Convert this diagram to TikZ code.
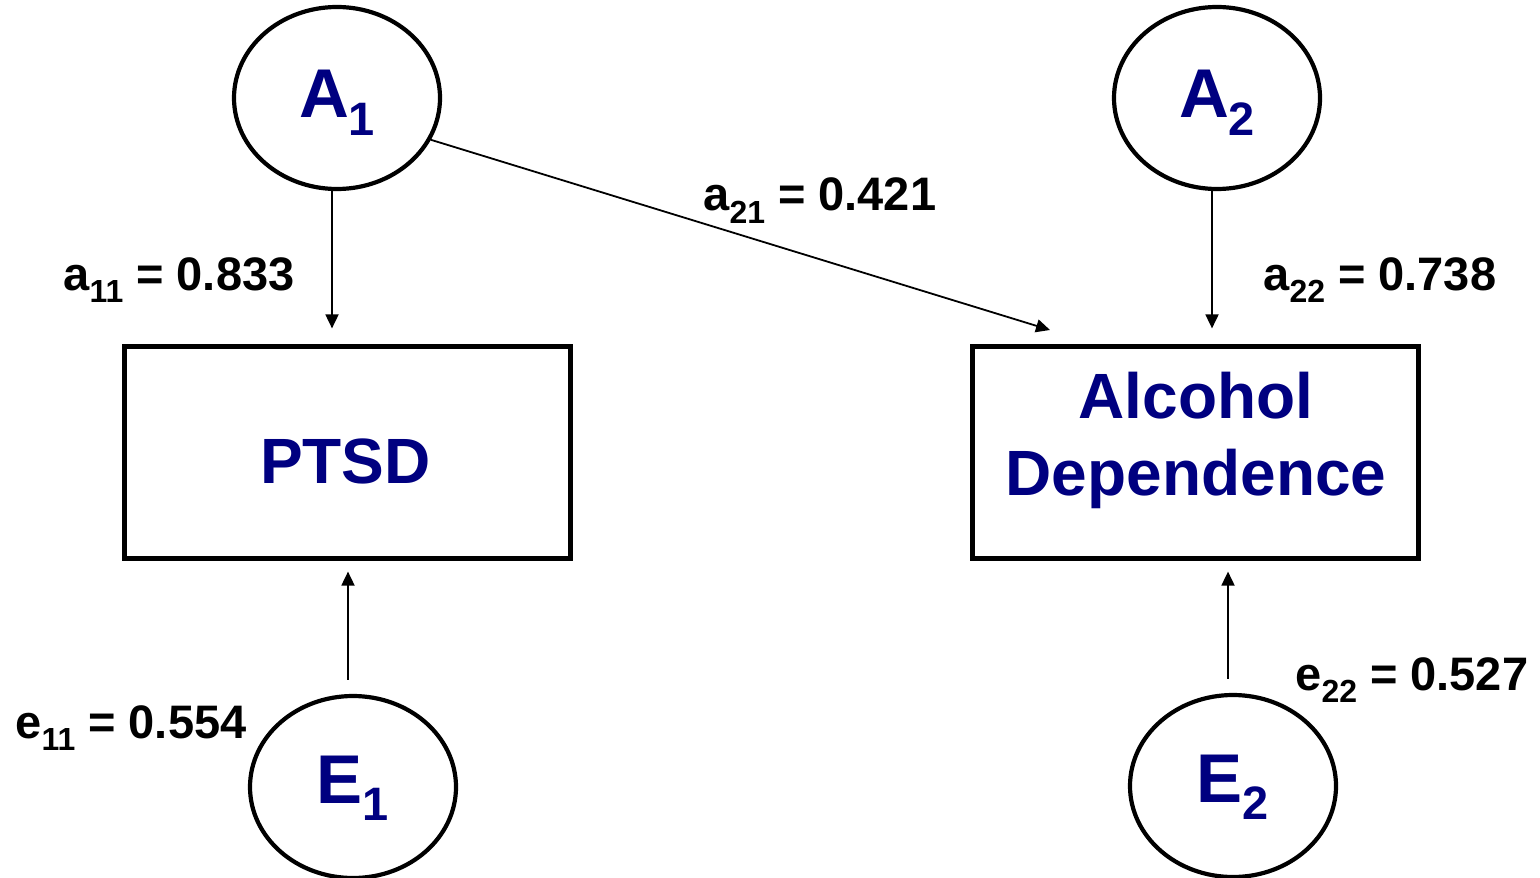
\documentclass[tikz,border=0pt]{standalone}
\usepackage{fontspec}
\setmainfont{Liberation Sans}
\usetikzlibrary{arrows.meta,calc,shapes.geometric}
\definecolor{navy}{HTML}{000080}
\newcommand{\vsub}[2]{#1\raisebox{-0.26em}{\fontsize{0.68em}{0.68em}\selectfont #2}}
\tikzset{
  latent/.style={draw, ellipse, line width=2.1pt, minimum width=103pt, minimum height=91pt, inner sep=0pt, text=navy, font=\fontsize{34.5pt}{34.5pt}\selectfont\bfseries, text height=25pt},
  observed/.style={draw, rectangle, line width=2.1pt, minimum width=223pt, minimum height=106pt, inner sep=0pt},
  boxtext/.style={anchor=base, inner sep=0pt, text=navy, font=\fontsize{32pt}{32pt}\selectfont\bfseries},
  conn/.style={line width=0.9pt, -{Triangle[length=7pt,width=6.5pt]}},
  coef/.style={anchor=base west, inner sep=0pt, font=\fontsize{23.5pt}{23.5pt}\selectfont\bfseries}
}
\begin{document}
\begin{tikzpicture}[x=0.5pt,y=-0.5pt]
\useasboundingbox (0,0) rectangle (1540,877);
\node[latent, text depth=5pt] (A1) at (337,98) {\vsub{A}{1}};
\node[latent, text depth=5pt] (A2) at (1217,98) {\vsub{A}{2}};
\node[latent, text depth=9pt] (E1) at (353,787) {\vsub{E}{1}};
\node[latent, text depth=9pt] (E2) at (1233,786) {\vsub{E}{2}};
\node[observed] (PTSD) at (347.5,452.5) {};
\node[observed] (AD) at (1195.5,452.5) {};
\node[boxtext] (PTSDt) at ($(PTSD.center)+(-2,30.5)$) {PTSD};
\node[boxtext] (ADt1) at ($(AD.center)+(0.5,-34.5)$) {Alcohol};
\node[boxtext] (ADt2) at ($(AD.center)+(0.5,42.5)$) {Dependence};
\coordinate (c1) at (332,0);
\coordinate (c2) at (1212,0);
\coordinate (c3) at (348,0);
\coordinate (c4) at (1228,0);
\coordinate (adtip) at (1050,330);
\draw[conn, shorten >=8pt] (A1.south -| c1) -- (PTSD.north -| c1);
\draw[conn, shorten >=8pt] (A2.south -| c2) -- (AD.north -| c2);
\draw[conn] (A1.-24) -- (adtip);
\draw[conn, shorten <=7pt, shorten >=5.5pt] (E1.north -| c3) -- (PTSD.south -| c3);
\draw[conn, shorten <=7pt, shorten >=5.5pt] (E2.north -| c4) -- (AD.south -| c4);
\node[coef] (l11) at (63,290) {\vsub{a}{11} = 0.833};
\node[coef] (l21) at (703,211) {\vsub{a}{21} = 0.421};
\node[coef] (l22) at (1263,290) {\vsub{a}{22} = 0.738};
\node[coef] (le1) at (15,738) {\vsub{e}{11} = 0.554};
\node[coef] (le2) at (1295,690) {\vsub{e}{22} = 0.527};
\end{tikzpicture}
\end{document}
